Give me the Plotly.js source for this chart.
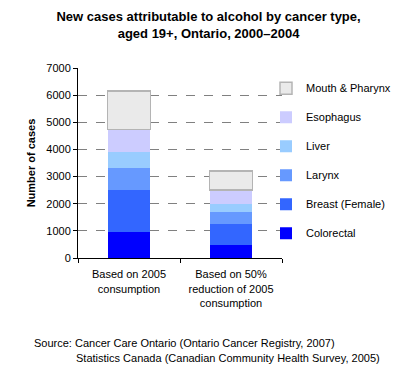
<!DOCTYPE html>
<html>
<head>
<meta charset="utf-8">
<script src="https://cdn.plot.ly/plotly-3.0.1.min.js"></script>
<style>html,body{margin:0;padding:0;background:#fff;}#chart{width:413px;height:377px;}</style>
</head>
<body>
<div id="chart"></div>
<script>
const categories = ["Based on 2005<br>consumption", "Based on 50%<br>reduction of 2005<br>consumption"];
const seriesNames = ["Colorectal", "Breast (Female)", "Larynx", "Liver", "Esophagus", "Mouth & Pharynx"];
const colorectal = [960, 480];
const breast = [1550, 775];
const larynx = [790, 455];
const liver = [590, 295];
const esophagus = [850, 495];
const mouthPharynx = [1410, 700];
const seriesValues = [colorectal, breast, larynx, liver, esophagus, mouthPharynx];
const colors = ["#0000FF", "#3366FF", "#6699FF", "#99CCFF", "#CCCCFF", "#EAEAEA"];
const lineColors = ["rgba(0,0,0,0)", "rgba(0,0,0,0)", "rgba(0,0,0,0)", "rgba(0,0,0,0)", "rgba(0,0,0,0)", "#B4B4B4"];
const lineWidths = [0, 0, 0, 0, 0, 1.5];

const font = "Arial, 'Liberation Sans', sans-serif";
const traces = seriesNames.map((n, i) => ({
  type: "bar",
  name: n,
  x: categories,
  y: seriesValues[i],
  legendgroup: "g" + i,
  legendrank: 1000 - i,
  marker: {color: colors[i], line: {color: lineColors[i], width: lineWidths[i]}},
  hoverinfo: "skip"
}));

const L = 78, R = 282;
const px = v => (v - L) / (R - L);

const layout = {
  width: 413, height: 377,
  margin: {l: 78, r: 131, t: 68, b: 119},
  paper_bgcolor: "#fff", plot_bgcolor: "#fff",
  barmode: "stack",
  bargap: 0.58,
  font: {family: font, size: 11, color: "#000"},
  title: {
    text: "<b>New cases attributable to alcohol by cancer type,<br>aged 19+, Ontario, 2000\u20132004</b>",
    font: {family: font, size: 13, color: "#000"},
    x: 0.505, xanchor: "center", y: 0.945, yanchor: "top"
  },
  xaxis: {
    showline: true, linecolor: "#000", linewidth: 1,
    ticks: "outside", tickson: "boundaries", ticklen: 4, tickcolor: "#000",
    ticklabelstandoff: 6,
    showgrid: false, zeroline: false,
    tickfont: {family: font, size: 11, color: "#000"}
  },
  yaxis: {
    range: [0, 7000], dtick: 1000, tickformat: "d",
    showline: true, linecolor: "#000", linewidth: 1,
    ticks: "outside", ticklen: 4, tickcolor: "#000",
    showgrid: true, gridcolor: "#808080", griddash: "dash", gridwidth: 1,
    zeroline: false,
    tickfont: {family: font, size: 11, color: "#000"},
    title: {text: "<b>Number of cases</b>", font: {family: font, size: 11, color: "#000"}, standoff: 8}
  },
  legend: {
    traceorder: "grouped",
    tracegroupgap: 10,
    x: px(266), xanchor: "left",
    y: 0.97, yanchor: "top",
    bgcolor: "rgba(0,0,0,0)",
    font: {family: font, size: 11, color: "#000"}
  },
  annotations: [
    {xref: "paper", yref: "paper", x: px(32), y: (258 - 343) / 190, xanchor: "left", yanchor: "middle",
     text: "Source: Cancer Care Ontario (Ontario Cancer Registry, 2007)", showarrow: false,
     font: {family: font, size: 11, color: "#000"}},
    {xref: "paper", yref: "paper", x: px(74), y: (258 - 358) / 190, xanchor: "left", yanchor: "middle",
     text: "Statistics Canada (Canadian Community Health Survey, 2005)", showarrow: false,
     font: {family: font, size: 11, color: "#000"}}
  ]
};

Plotly.newPlot("chart", traces, layout, {displayModeBar: false, staticPlot: true});
</script>
</body>
</html>
